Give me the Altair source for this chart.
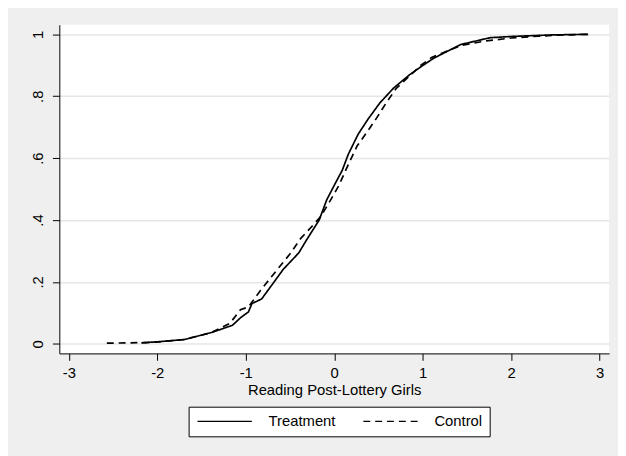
import altair as alt
import pandas as pd

# ---- data ----
groups = ["Treatment", "Control"]

treat_x = [-2.18, -1.98, -1.69, -1.38, -1.15, -1.06, -0.97, -0.93, -0.82, -0.71, -0.575,
           -0.40, -0.31, -0.17, -0.085, 0.0, 0.09, 0.16, 0.27, 0.38, 0.515, 0.67, 0.85,
           0.98, 1.12, 1.25, 1.43, 1.76, 2.0, 2.45, 2.87]
treat_y = [0.003, 0.007, 0.014, 0.037, 0.06, 0.084, 0.103, 0.13, 0.145, 0.188, 0.241,
           0.294, 0.337, 0.40, 0.465, 0.512, 0.56, 0.613, 0.677, 0.725, 0.778, 0.826, 0.869,
           0.895, 0.922, 0.941, 0.967, 0.989, 0.993, 0.998, 1.0]

control_x = [-2.57, -2.13, -1.98, -1.7, -1.4, -1.18, -1.06, -0.97, -0.84, -0.7, -0.49,
             -0.38, -0.25, -0.156, -0.05, 0.05, 0.16, 0.26, 0.38, 0.48, 0.58, 0.70,
             0.85, 0.98, 1.1, 1.25, 1.45, 1.7, 2.0, 2.3, 2.6, 2.87]
control_y = [0.002, 0.004, 0.006, 0.014, 0.035, 0.066, 0.11, 0.119, 0.17, 0.22, 0.294,
             0.34, 0.38, 0.41, 0.46, 0.51, 0.58, 0.64, 0.688, 0.73, 0.775, 0.825,
             0.865, 0.9, 0.925, 0.943, 0.965, 0.978, 0.988, 0.994, 0.998, 1.0]

x_ticks = [-3, -2, -1, 0, 1, 2, 3]
y_ticks = [0, 0.2, 0.4, 0.6, 0.8, 1]

df = pd.concat([
    pd.DataFrame({"x": treat_x, "y": treat_y, "group": groups[0],
                  "i": list(range(len(treat_x)))}),
    pd.DataFrame({"x": control_x, "y": control_y, "group": groups[1],
                  "i": list(range(len(control_x)))}),
], ignore_index=True)

FONT = "Liberation Sans, Arial, sans-serif"
FS = 15

y_label_expr = ("datum.value == 0 ? '0' : datum.value == 1 ? '1' : "
                "replace(format(datum.value, '.1f'), '0.', '.')")

chart = alt.Chart(df).mark_line(color="black", strokeWidth=1.7).encode(
    x=alt.X("x:Q",
            scale=alt.Scale(domain=[-3.107, 3.107], nice=False, zero=False),
            axis=alt.Axis(values=x_ticks, labelExpr="'' + datum.value",
                          title="Reading Post-Lottery Girls", grid=False,
                          tickSize=7, labelPadding=5, titlePadding=3)),
    y=alt.Y("y:Q",
            scale=alt.Scale(domain=[-0.031, 1.031], nice=False, zero=False),
            axis=alt.Axis(values=y_ticks, labelExpr=y_label_expr, title=None,
                          grid=True, gridColor="#e6e6e6", gridWidth=1.5,
                          labelAngle=270, labelAlign="center",
                          labelBaseline="bottom", tickSize=7, labelPadding=7)),
    strokeDash=alt.StrokeDash(
        "group:N",
        scale=alt.Scale(domain=groups, range=[[1, 0], [7, 5]]),
        legend=alt.Legend(title=None, orient="none", legendX=131, legendY=387,
                          direction="horizontal", symbolType="M-1,0H9",
                          symbolSize=121, symbolStrokeWidth=1.3,
                          symbolStrokeColor="black", labelOffset=59,
                          columnPadding=25, padding=7, fillColor="white",
                          strokeColor="black", labelFontSize=FS,
                          labelColor="black", labelFont=FONT)),
    order=alt.Order("i:Q"),
).properties(
    width=557, height=333,
    autosize=alt.AutoSizeParams(type="none"),
    padding={"left": 52, "top": 14, "right": 9, "bottom": 101},
    background="#efefef",
).configure_view(
    fill="white", stroke="transparent", strokeWidth=0
).configure_axis(
    domainColor="black", domainWidth=1, tickColor="black", tickWidth=1,
    labelFont=FONT, labelFontSize=FS, labelColor="black",
    titleFont=FONT, titleFontSize=FS, titleColor="black", titleFontWeight="normal",
)

chart.save("out.html", embed_options={"renderer": "svg", "actions": False})
